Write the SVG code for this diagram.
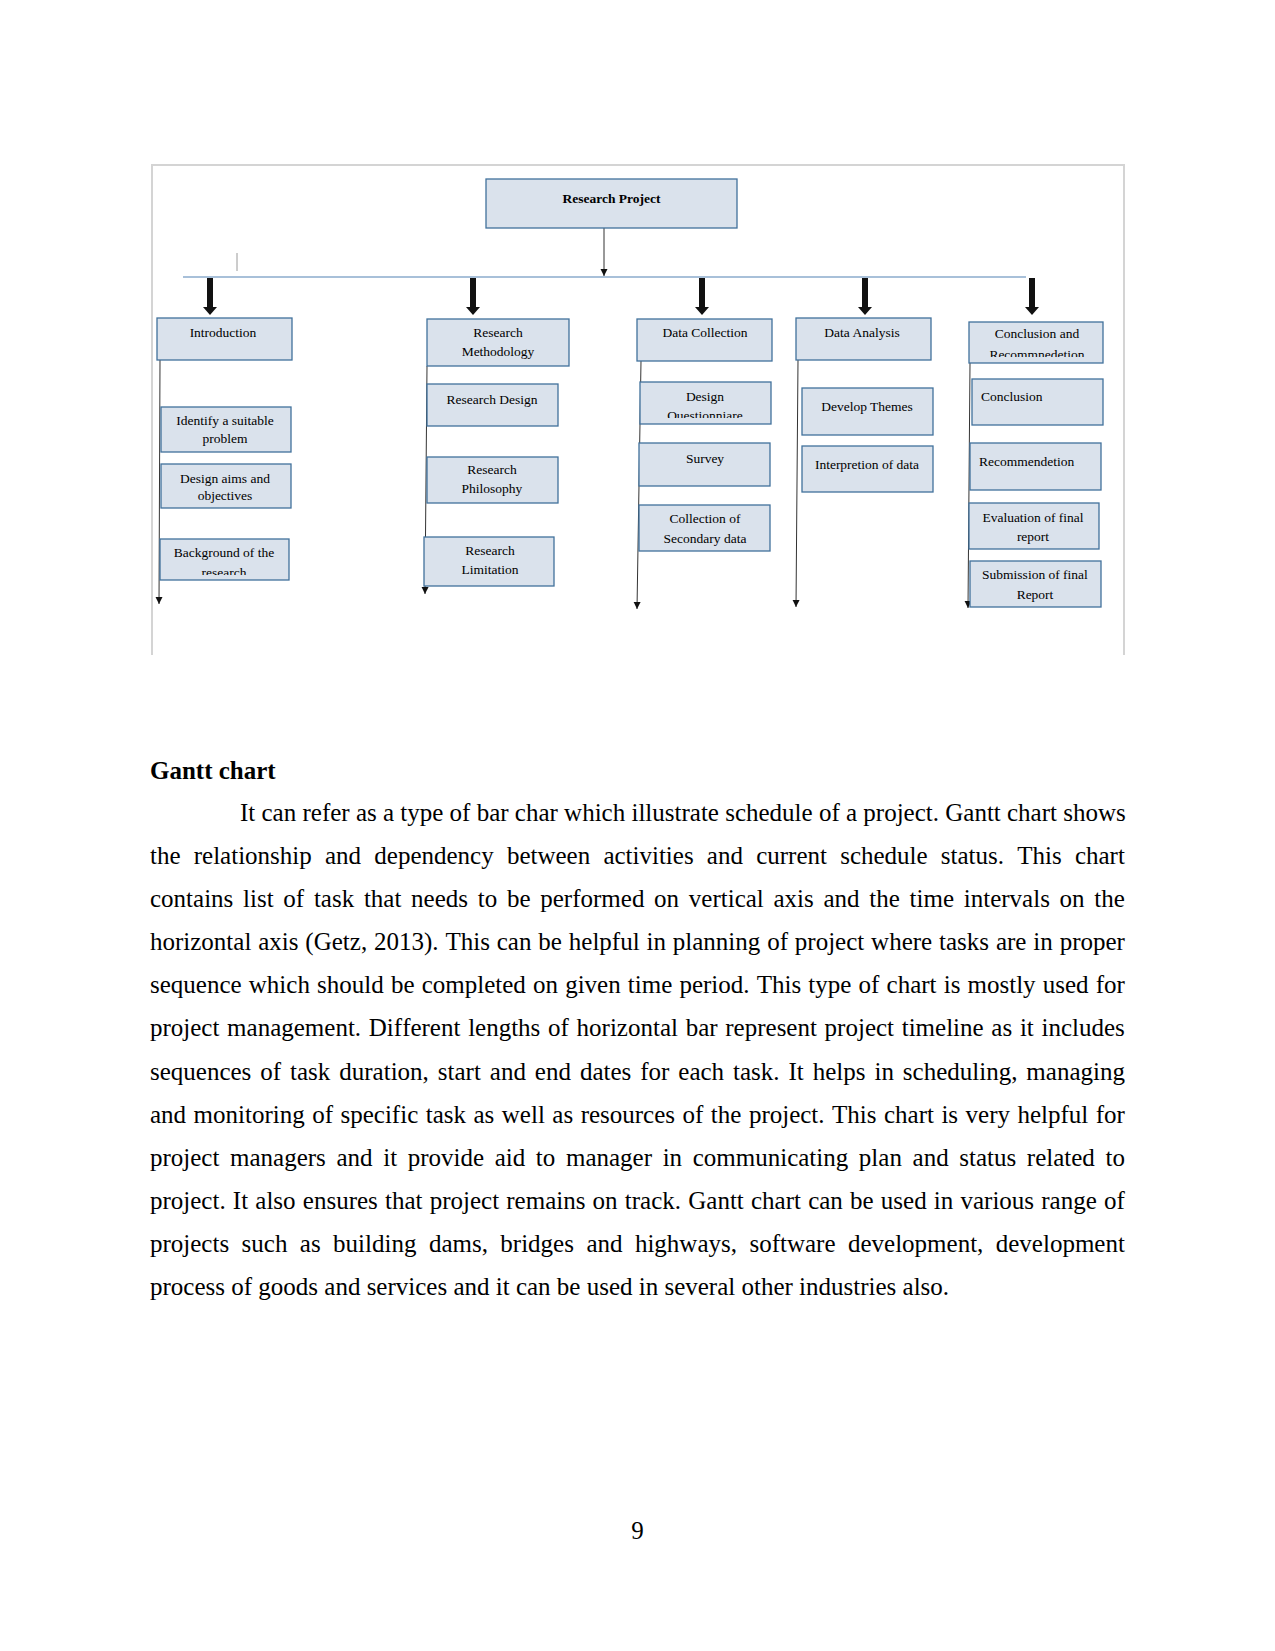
<svg xmlns="http://www.w3.org/2000/svg" width="1275" height="1651" viewBox="0 0 1275 1651">
<style>
.bx{fill:#dae2ec;stroke:#41719c;stroke-width:1.3}
.t{font-family:"Liberation Serif","Times New Roman",serif;font-size:13.5px;fill:#000;text-anchor:middle}
.ts{text-anchor:start}
.b{font-weight:bold}
.col{stroke:#333;stroke-width:1;fill:none}
.thick{fill:#111}
.body{font-family:"Liberation Serif","Times New Roman",serif;font-size:25px;fill:#000;font-kerning:none}
.frame{stroke:#d4d4d4;stroke-width:2;fill:none}
</style>
<defs>
<marker id="ah" markerUnits="userSpaceOnUse" markerWidth="8" markerHeight="8" refX="7" refY="3.5" orient="auto">
<path d="M0,0 L7,3.5 L0,7 z" fill="#111"/>
</marker>
<clipPath id="c1"><rect x="160" y="539" width="129" height="36"/></clipPath>
<clipPath id="c2"><rect x="640" y="382" width="131" height="36"/></clipPath>
<clipPath id="c3"><rect x="969" y="322" width="134" height="35"/></clipPath>
</defs>
<rect width="1275" height="1651" fill="#fff"/>
<path class="frame" d="M152,655 L152,165 L1124,165 L1124,655"/>

<g id="connectors">
<line x1="183" y1="277" x2="1026" y2="277" stroke="#5282b4" stroke-width="1.2"/>
<line x1="604" y1="228" x2="604" y2="276" class="col" marker-end="url(#ah)"/>
<line x1="237" y1="253" x2="237" y2="271" stroke="#9a9a9a" stroke-width="1"/>
<polygon class="thick" points="207,278 213,278 213,307 217,307 210,315 203,307 207,307"/>
<polygon class="thick" points="470,278 476,278 476,307 480,307 473,315 466,307 470,307"/>
<polygon class="thick" points="699,278 705,278 705,307 709,307 702,315 695,307 699,307"/>
<polygon class="thick" points="862,278 868,278 868,307 872,307 865,315 858,307 862,307"/>
<polygon class="thick" points="1029,278 1035,278 1035,307 1039,307 1032,315 1025,307 1029,307"/>
<line x1="160" y1="360" x2="159" y2="604" class="col" marker-end="url(#ah)"/>
<line x1="427" y1="366" x2="425" y2="594" class="col" marker-end="url(#ah)"/>
<line x1="641" y1="361" x2="637" y2="609" class="col" marker-end="url(#ah)"/>
<line x1="798" y1="360" x2="796" y2="607" class="col" marker-end="url(#ah)"/>
<line x1="970" y1="363" x2="968" y2="608" class="col" marker-end="url(#ah)"/>
</g>

<g id="root"><rect class="bx" x="486" y="179" width="251" height="49"/><text class="t b" x="611.5" y="203">Research Project</text></g>

<g id="introduction"><rect class="bx" x="157" y="318" width="135" height="42"/><text class="t" x="223" y="337">Introduction</text></g>
<g id="identify"><rect class="bx" x="161" y="407" width="130" height="45"/><text class="t" x="225" y="425">Identify a suitable</text><text class="t" x="225" y="443">problem</text></g>
<g id="design-aims"><rect class="bx" x="161" y="464" width="130" height="44"/><text class="t" x="225" y="483">Design aims and</text><text class="t" x="225" y="500">objectives</text></g>
<g id="background"><rect class="bx" x="160" y="539" width="129" height="41"/><text class="t" x="224" y="557">Background of the</text><text class="t" x="224" y="577" clip-path="url(#c1)">research</text></g>

<g id="methodology"><rect class="bx" x="427" y="319" width="142" height="47"/><text class="t" x="498" y="337">Research</text><text class="t" x="498" y="356">Methodology</text></g>
<g id="research-design"><rect class="bx" x="427" y="384" width="131" height="42"/><text class="t" x="492" y="404">Research Design</text></g>
<g id="research-philosophy"><rect class="bx" x="427" y="457" width="131" height="46"/><text class="t" x="492" y="474">Research</text><text class="t" x="492" y="493">Philosophy</text></g>
<g id="research-limitation"><rect class="bx" x="424" y="537" width="130" height="49"/><text class="t" x="490" y="555">Research</text><text class="t" x="490" y="574">Limitation</text></g>

<g id="data-collection"><rect class="bx" x="637" y="319" width="135" height="42"/><text class="t" x="705" y="337">Data Collection</text></g>
<g id="design-questionnaire"><rect class="bx" x="640" y="382" width="131" height="42"/><text class="t" x="705" y="401">Design</text><text class="t" x="705" y="420" clip-path="url(#c2)">Questionniare</text></g>
<g id="survey"><rect class="bx" x="639" y="443" width="131" height="43"/><text class="t" x="705" y="463">Survey</text></g>
<g id="secondary"><rect class="bx" x="639" y="505" width="131" height="46"/><text class="t" x="705" y="523">Collection of</text><text class="t" x="705" y="543">Secondary data</text></g>

<g id="data-analysis"><rect class="bx" x="796" y="318" width="135" height="42"/><text class="t" x="862" y="337">Data Analysis</text></g>
<g id="develop-themes"><rect class="bx" x="802" y="388" width="131" height="47"/><text class="t" x="867" y="411">Develop Themes</text></g>
<g id="interpretion"><rect class="bx" x="802" y="446" width="131" height="46"/><text class="t" x="867" y="469">Interpretion of data</text></g>

<g id="conclusion-rec"><rect class="bx" x="969" y="322" width="134" height="41"/><text class="t" x="1037" y="338">Conclusion and</text><text class="t" x="1037" y="359" clip-path="url(#c3)">Recommnedetion</text></g>
<g id="conclusion"><rect class="bx" x="972" y="379" width="131" height="46"/><text class="t ts" x="981" y="401">Conclusion</text></g>
<g id="recommendetion"><rect class="bx" x="970" y="443" width="131" height="47"/><text class="t ts" x="979" y="466">Recommendetion</text></g>
<g id="evaluation"><rect class="bx" x="969" y="503" width="130" height="46"/><text class="t" x="1033" y="522">Evaluation of final</text><text class="t" x="1033" y="541">report</text></g>
<g id="submission"><rect class="bx" x="970" y="561" width="131" height="46"/><text class="t" x="1035" y="579">Submission of final</text><text class="t" x="1035" y="599">Report</text></g>

<text class="body" x="150" y="779" font-weight="bold">Gantt chart</text>
<text class="body" x="240" y="821">It can refer as a type of bar char which illustrate schedule of a project. Gantt chart shows</text>
<text class="body" x="150" y="864" word-spacing="6.96">the relationship and dependency between activities and current schedule status. This chart</text>
<text class="body" x="150" y="907" word-spacing="3.48">contains list of task that needs to be performed on vertical axis and the time intervals on the</text>
<text class="body" x="150" y="950" word-spacing="0.62">horizontal axis (Getz, 2013). This can be helpful in planning of project where tasks are in proper</text>
<text class="body" x="150" y="993" word-spacing="0.92">sequence which should be completed on given time period. This type of chart is mostly used for</text>
<text class="body" x="150" y="1036" word-spacing="1.46">project management. Different lengths of horizontal bar represent project timeline as it includes</text>
<text class="body" x="150" y="1080" word-spacing="2.70">sequences of task duration, start and end dates for each task. It helps in scheduling, managing</text>
<text class="body" x="150" y="1123" word-spacing="1.24">and monitoring of specific task as well as resources of the project. This chart is very helpful for</text>
<text class="body" x="150" y="1166" word-spacing="4.38">project managers and it provide aid to manager in communicating plan and status related to</text>
<text class="body" x="150" y="1209" word-spacing="0.95">project. It also ensures that project remains on track. Gantt chart can be used in various range of</text>
<text class="body" x="150" y="1252" word-spacing="6.19">projects such as building dams, bridges and highways, software development, development</text>
<text class="body" x="150" y="1295">process of goods and services and it can be used in several other industries also.</text>
<text class="body" x="637.5" y="1539" text-anchor="middle">9</text>
</svg>
